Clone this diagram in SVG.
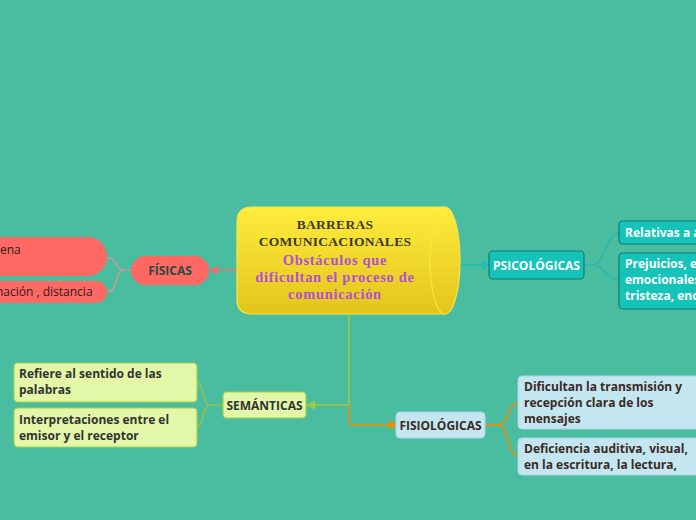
<svg xmlns="http://www.w3.org/2000/svg" width="696" height="520" viewBox="0 0 696 520">
<defs>
<linearGradient id="yel" x1="0" y1="0" x2="0" y2="1">
<stop offset="0" stop-color="#FFEC3C"/>
<stop offset="1" stop-color="#E3C51A"/>
</linearGradient>
<marker id="aRed" viewBox="0 0 10 10" refX="9" refY="5" markerWidth="6" markerHeight="6" orient="auto"><path d="M0,0 L10,5 L0,10 Z" fill="#E8736E"/></marker>
<marker id="aTeal" viewBox="0 0 10 10" refX="9" refY="5" markerWidth="6" markerHeight="6" orient="auto"><path d="M0,0 L10,5 L0,10 Z" fill="#1FBDB3"/></marker>
<marker id="aGreen" viewBox="0 0 10 10" refX="9" refY="5" markerWidth="6" markerHeight="6" orient="auto"><path d="M0,0 L10,5 L0,10 Z" fill="#A6C83C"/></marker>
<marker id="aOrange" viewBox="0 0 10 10" refX="9" refY="5" markerWidth="6" markerHeight="6" orient="auto"><path d="M0,0 L10,5 L0,10 Z" fill="#F28C00"/></marker>
</defs>
<style>
.sans{font-family:"Open Sans","Noto Sans","DejaVu Sans",sans-serif;font-size:12px}
.b{font-weight:bold}
.ser{font-family:"Liberation Serif","DejaVu Serif",serif;font-weight:bold;font-size:13.5px;text-anchor:middle}
.pur{font-size:14.5px;letter-spacing:0.7px;fill:#B24FD2}
.dk{fill:#3B3A28;letter-spacing:0.3px}
.red{fill:#FF6863}
.teal{fill:#16C3B9;stroke:#0F7A72;stroke-width:1.2}
.green{fill:#E2F7A7;stroke:#A9D147;stroke-width:1.2}
.blue{fill:#C4E6F0;stroke:#A9D6E4;stroke-width:1}
.c{fill:none;stroke-width:1.5}
</style>
<rect x="0" y="0" width="696" height="520" fill="#4ABDA0"/>

<g id="connectors">
<path class="c" d="M237,270 H210" stroke="#E8736E" marker-end="url(#aRed)"/>
<path class="c" d="M131,270 H123 C116,270 118,258 107,258 M123,270 C116,270 118,292 107,292" stroke="#C99A93" stroke-width="1"/>
<path class="c" d="M458,265 H490" stroke="#1FBDB3" marker-end="url(#aTeal)"/>
<path class="c" d="M584,265 H593 C604,265 606,233 619,233 M593,265 C604,265 606,280 619,280" stroke="#2DB6AE" stroke-width="1"/>
<path class="c" d="M349,314 V405 H307" stroke="#A6C83C" marker-end="url(#aGreen)"/>
<path class="c" d="M223,405 H210 C202,405 204,383 197,383 M210,405 C202,405 204,427 197,427" stroke="#8FC05A" stroke-width="1"/>
<path class="c" d="M349,405 V420 Q349,425 354,425 H397" stroke="#F28C00" marker-end="url(#aOrange)"/>
<path class="c" d="M485,425 H497 C510,425 506,403 519,403 M497,425 C510,425 506,456 519,456" stroke="#F28C00" stroke-width="2"/>
</g>

<g id="center">
<path d="M252,207 H445 A15,53.5 0 0 1 445,314 H252 Q237,314 237,299 V222 Q237,207 252,207 Z" fill="url(#yel)" stroke="#F6E64A" stroke-width="1.2"/>
<path d="M445,207 A15,53.5 0 0 0 445,314" fill="none" stroke="#F6E64A" stroke-width="1.2"/>
<text class="ser dk" x="335" y="229">BARRERAS</text>
<text class="ser dk" x="335" y="246">COMUNICACIONALES</text>
<text class="ser pur" x="335" y="265">Obstáculos que</text>
<text class="ser pur" x="335" y="282">dificultan el proceso de</text>
<text class="ser pur" x="335" y="299">comunicación</text>
</g>

<g id="fisicas">
<rect class="red" x="131" y="256" width="78" height="29" rx="14.5"/>
<text class="sans b" x="170" y="275" text-anchor="middle" fill="#1F4C45">FÍSICAS</text>
</g>
<g id="fisicas-1">
<rect class="red" x="-120" y="237" width="227" height="39" rx="19.5"/>
<text class="sans" x="0" y="254" fill="#2A1E1E">ena</text>
</g>
<g id="fisicas-2">
<rect class="red" x="-120" y="281" width="227" height="22" rx="11"/>
<text class="sans" x="-4" y="296" fill="#2A1E1E">nación , distancia</text>
</g>

<g id="psicologicas">
<rect class="teal" x="489" y="251" width="95" height="28" rx="4"/>
<text class="sans b" x="536.5" y="269.5" text-anchor="middle" fill="#FFFFFF">PSICOLÓGICAS</text>
</g>
<g id="psico-1">
<rect class="teal" x="619" y="221" width="120" height="23" rx="4"/>
<text class="sans b" x="625" y="237" fill="#FFFFFF">Relativas a a</text>
</g>
<g id="psico-2">
<rect class="teal" x="619" y="253" width="120" height="56" rx="4"/>
<text class="sans b" x="625" y="268" fill="#FFFFFF">Prejuicios, e</text>
<text class="sans b" x="625" y="284" fill="#FFFFFF">emocionales</text>
<text class="sans b" x="625" y="300" fill="#FFFFFF">tristeza, enc</text>
</g>

<g id="semanticas">
<rect class="green" x="223" y="392" width="83" height="26" rx="4"/>
<text class="sans b" x="264.5" y="409.5" text-anchor="middle" fill="#333333">SEMÁNTICAS</text>
</g>
<g id="sem-1">
<rect class="green" x="14" y="363" width="183" height="39" rx="4"/>
<text class="sans b" x="19" y="378" fill="#333333">Refiere al sentido de las</text>
<text class="sans b" x="19" y="394" fill="#333333">palabras</text>
</g>
<g id="sem-2">
<rect class="green" x="14" y="408" width="183" height="39" rx="4"/>
<text class="sans b" x="19" y="424" fill="#333333">Interpretaciones entre el</text>
<text class="sans b" x="19" y="440" fill="#333333">emisor y el receptor</text>
</g>

<g id="fisiologicas">
<rect class="blue" x="396" y="412" width="89" height="26" rx="4"/>
<text class="sans b" x="440.5" y="429.5" text-anchor="middle" fill="#3A2A22">FISIOLÓGICAS</text>
</g>
<g id="fisio-1">
<rect class="blue" x="518" y="376" width="200" height="53" rx="4"/>
<text class="sans b" x="524" y="391" fill="#3A2A22">Dificultan la transmisión y</text>
<text class="sans b" x="524" y="407" fill="#3A2A22">recepción clara de los</text>
<text class="sans b" x="524" y="423" fill="#3A2A22">mensajes</text>
</g>
<g id="fisio-2">
<rect class="blue" x="518" y="438" width="200" height="37" rx="4"/>
<text class="sans b" x="524" y="453" fill="#3A2A22">Deficiencia auditiva, visual,</text>
<text class="sans b" x="524" y="469" fill="#3A2A22">en la escritura, la lectura,</text>
</g>
</svg>
